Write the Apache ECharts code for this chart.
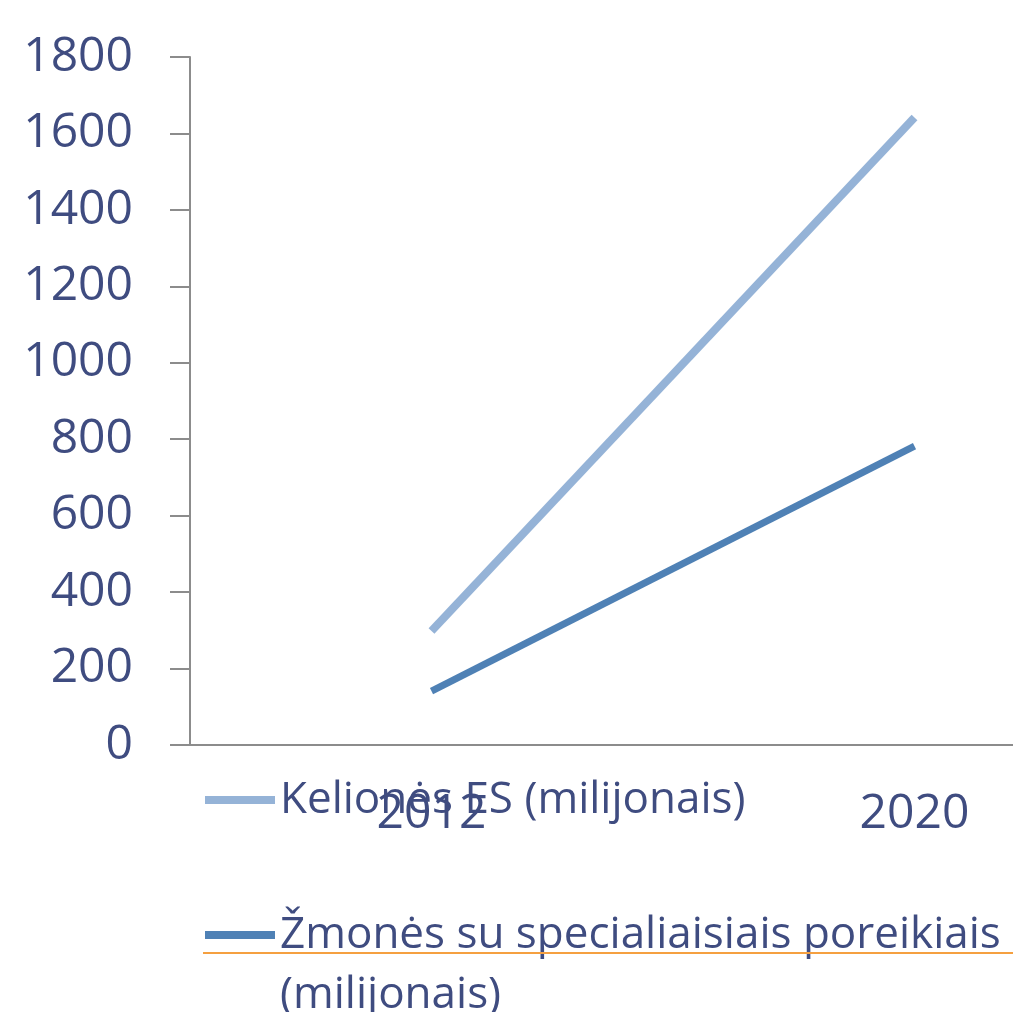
<!DOCTYPE html>
<html><head><meta charset="utf-8">
<script src="https://cdn.jsdelivr.net/npm/echarts@6/dist/echarts.min.js"></script>
<style>html,body{margin:0;padding:0;background:#fff}#c{width:1013px;height:1012px}</style>
</head><body><div id="c"></div>
<script>
const categories = ['2012', '2020'];
const seriesNames = ['Kelionės ES (milijonais)', 'Žmonės su specialiaisiais poreikiais (milijonais)'];
const travelValues = [298, 1642];
const specialNeedsValues = [141, 782];
const yTicks = { min: 0, max: 1800, interval: 200 };

const txt = '#3f4c80';
const font = 'Open Sans';
const chart = echarts.init(document.getElementById('c'));
chart.setOption({
  animation: false,
  backgroundColor: '#fff',
  grid: { left: 190, top: 57, height: 688, width: 966, containLabel: false, outerBoundsMode: 'none' },
  xAxis: {
    type: 'category', data: categories, boundaryGap: true,
    axisLine: { lineStyle: { color: '#8c8c8c', width: 2 } },
    axisTick: { show: false },
    axisLabel: { color: txt, fontFamily: font, fontSize: 48, margin: 45 }
  },
  yAxis: {
    type: 'value', min: yTicks.min, max: yTicks.max, interval: yTicks.interval,
    splitLine: { show: false },
    axisLine: { show: true, lineStyle: { color: '#8c8c8c', width: 2 } },
    axisTick: { show: true, length: 20, lineStyle: { color: '#8c8c8c', width: 2 } },
    axisLabel: { color: txt, fontFamily: font, fontSize: 48, margin: 57, formatter: function (v) { return String(v); } }
  },
  legend: [
    {
      data: [seriesNames[0]], orient: 'vertical', left: 205, top: 770, padding: 0,
      itemWidth: 70, itemHeight: 8, icon: 'rect',
      textStyle: { color: txt, fontFamily: font, fontSize: 44, lineHeight: 60 }
    },
    {
      data: [seriesNames[1]], orient: 'vertical', left: 205, top: 845, padding: 0,
      itemWidth: 70, itemHeight: 8, icon: 'rect',
      formatter: function (n) { return ' \n' + n.replace(' (', '\n('); },
      textStyle: { color: txt, fontFamily: font, fontSize: 44, lineHeight: 60 }
    }
  ],
  graphic: [
    { type: 'line', shape: { x1: 203, y1: 953, x2: 1013, y2: 953 }, style: { stroke: '#f5a040', lineWidth: 2 }, z: 10 }
  ],
  series: [
    {
      name: seriesNames[0], type: 'line', data: travelValues, symbol: 'none',
      lineStyle: { color: '#95b3d7', width: 8 }, itemStyle: { color: '#95b3d7' }
    },
    {
      name: seriesNames[1], type: 'line', data: specialNeedsValues, symbol: 'none',
      lineStyle: { color: '#4f81b5', width: 7 }, itemStyle: { color: '#4f81b5' }
    }
  ]
});
</script></body></html>
